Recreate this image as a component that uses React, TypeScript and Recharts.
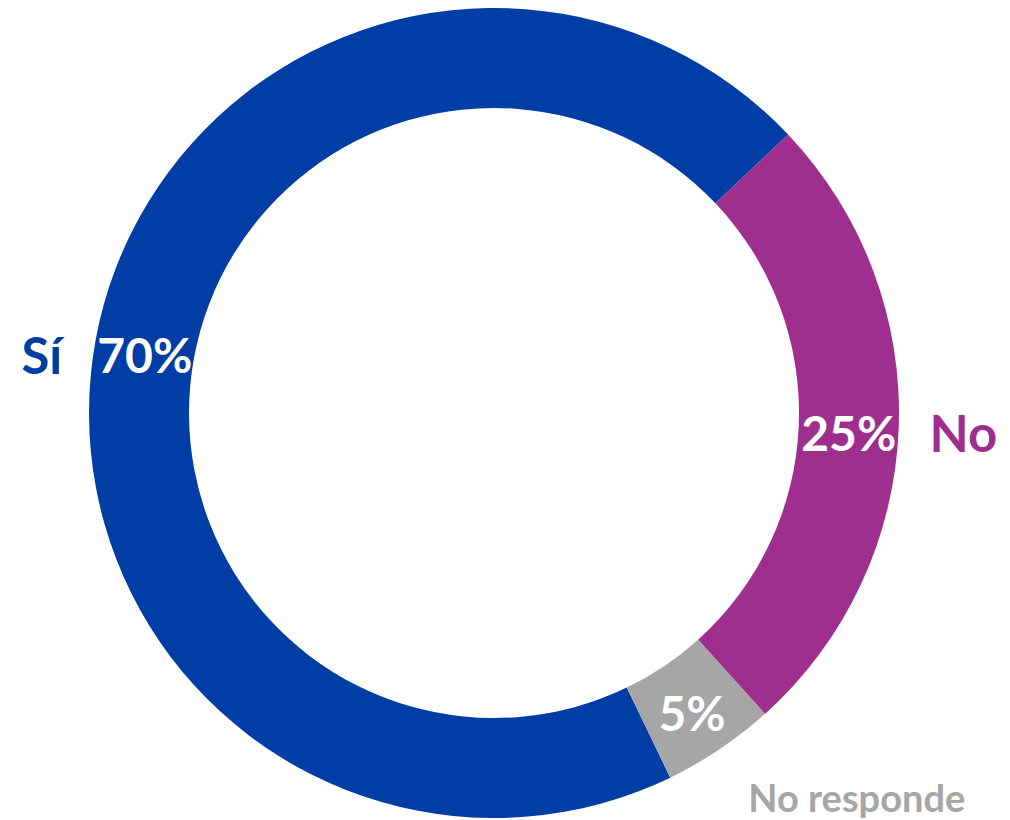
import { Cell, Pie, PieChart } from "recharts";

const categories = ["Sí", "No", "No responde"];
const shares = [70.1, 25.4, 4.5];

const palette = ["#003DA5", "#9E2F8E", "#A6A6A6"];

const data = categories.map((name, i) => ({ name, value: shares[i] }));

const RADIAN = Math.PI / 180;
const FONT = "Lato, 'Open Sans', sans-serif";

type LabelProps = {
  cx: number;
  cy: number;
  midAngle: number;
  innerRadius: number;
  outerRadius: number;
  value: number;
  name: string;
  index: number;
};

function SliceLabel({ cx, cy, midAngle, innerRadius, outerRadius, value, name, index }: LabelProps) {
  const cos = Math.cos(-midAngle * RADIAN);
  const sin = Math.sin(-midAngle * RADIAN);
  const ringR = (innerRadius + outerRadius) / 2;
  const ix = cx + ringR * cos;
  const iy = cy + ringR * sin + 5;

  // side labels sit level with the percentage, others follow the slice ray
  let ox: number;
  let oy: number;
  let anchor: "start" | "end";
  let size = 51;
  if (Math.abs(cos) > 0.9) {
    const dy = iy - cy;
    const edge = Math.sqrt(outerRadius * outerRadius - dy * dy);
    ox = cx + (cos > 0 ? edge + 31 : -(edge + 31));
    oy = iy;
    anchor = cos > 0 ? "start" : "end";
  } else {
    ox = cx + (outerRadius + 58) * cos - 4;
    oy = cy + (outerRadius + 58) * sin;
    anchor = cos > 0 ? "start" : "end";
    size = 38;
  }

  return (
    <g>
      <text
        x={ix}
        y={iy}
        fill="#ffffff"
        textAnchor="middle"
        dominantBaseline="central"
        fontFamily={FONT}
        fontWeight={700}
        fontSize={48}
      >
        {`${Math.round(value)}%`}
      </text>
      <text
        x={ox}
        y={oy}
        fill={palette[index]}
        textAnchor={anchor}
        dominantBaseline="central"
        fontFamily={FONT}
        fontWeight={700}
        fontSize={size}
      >
        {name}
      </text>
    </g>
  );
}

export default function App() {
  return (
    <div style={{ position: "absolute", left: 0, top: 0, width: 1010, height: 820, background: "#ffffff" }}>
      <PieChart width={1010} height={820} margin={{ top: 0, right: 0, bottom: 0, left: 0 }}>
        <Pie
          data={data}
          dataKey="value"
          nameKey="name"
          cx={494}
          cy={413}
          innerRadius={305}
          outerRadius={405}
          startAngle={295.8}
          endAngle={-64.2}
          stroke="none"
          labelLine={false}
          label={(props: any) => <SliceLabel {...props} />}
          isAnimationActive={false}
        >
          {data.map((d, i) => (
            <Cell key={d.name} fill={palette[i]} />
          ))}
        </Pie>
      </PieChart>
    </div>
  );
}
